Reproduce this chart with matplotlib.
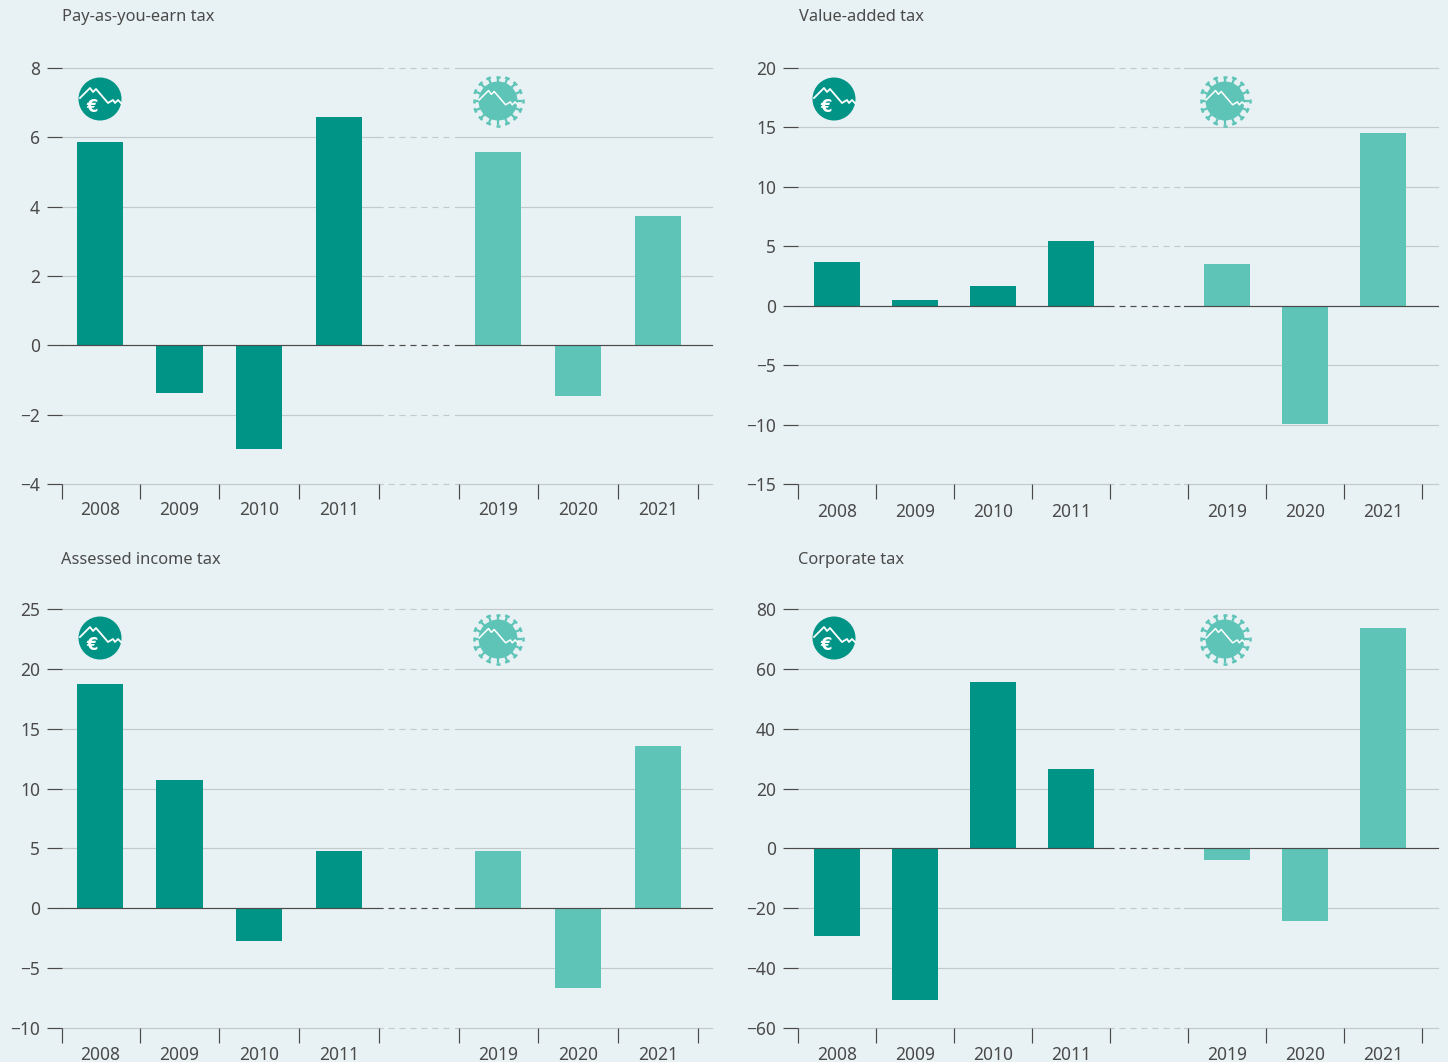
import numpy as np
import matplotlib
matplotlib.use('Agg')
import matplotlib.pyplot as plt
from matplotlib.patches import Circle

plt.rcParams['font.family'] = ['Noto Sans', 'DejaVu Sans']

W, H = 1448, 1062
BG = '#e8f1f3'
DARK = '#009487'
LIGHT = '#5fc4b8'
GRID = '#c2cacc'
INK = '#4a4a4a'
LINE = '#4a4a4a'

years_a = ['2008', '2009', '2010', '2011']
years_b = ['2019', '2020', '2021']

paye_a = [5.86, -1.38, -3.0, 6.58]
paye_b = [5.57, -1.47, 3.72]
vat_a = [3.7, 0.5, 1.7, 5.45]
vat_b = [3.5, -9.95, 14.5]
income_a = [18.7, 10.7, -2.75, 4.75]
income_b = [4.75, -6.7, 13.55]
corp_a = [-29.4, -50.8, 55.5, 26.7]
corp_b = [-4.0, -24.4, 73.5]

paye_ticks = [-4, -2, 0, 2, 4, 6, 8]
vat_ticks = [-15, -10, -5, 0, 5, 10, 15, 20]
income_ticks = [-10, -5, 0, 5, 10, 15, 20, 25]
corp_ticks = [-60, -40, -20, 0, 20, 40, 60, 80]

fig = plt.figure(figsize=(W / 100, H / 100), dpi=100, facecolor=BG)


def panel(left, right, top, bottom, x0, title, title_x, title_y, vals_a, vals_b, ticks, unit, label_y):
    ax = fig.add_axes([left / W, 1 - bottom / H, (right - left) / W, (bottom - top) / H])
    ax.set_facecolor('none')
    xa = np.arange(4)
    xb = np.arange(3) + 5
    xmax = x0 + (right - left) / unit
    ax.set_xlim(x0, xmax)
    ax.set_ylim(ticks[0], ticks[-1])
    for s in ax.spines.values():
        s.set_visible(False)

    # gridlines are broken up by a dashed stretch between the two periods
    for t in ticks:
        col = LINE if t == 0 else GRID
        z = 4 if t == 0 else 1
        ax.plot([x0, 3.48], [t, t], color=col, lw=0.85, zorder=z, clip_on=False)
        ax.plot([3.48, 4.42], [t, t], color=col, lw=0.85, zorder=z, clip_on=False,
                dashes=(5.2, 4.1))
        ax.plot([4.45, xmax], [t, t], color=col, lw=0.85, zorder=z, clip_on=False)

    ax.bar(xa, vals_a, width=0.58, color=DARK, zorder=3)
    ax.bar(xb, vals_b, width=0.58, color=LIGHT, zorder=3)

    ax.set_yticks(ticks)
    ax.set_yticklabels([str(t).replace('-', '\u2212') for t in ticks])
    ax.tick_params(axis='y', length=10.8, width=0.85, color=LINE, labelsize=12.5,
                   labelcolor=INK, pad=5)
    ax.set_xticks([x0, 0.5, 1.5, 2.5, 3.5, 4.5, 5.5, 6.5, 7.5])
    ax.set_xticklabels([])
    ax.tick_params(axis='x', length=11, width=0.85, color=LINE)
    for x, lab in zip(list(xa) + list(xb), years_a + years_b):
        px = left + (x - x0) * unit
        fig.text(px / W, 1 - label_y / H, lab, ha='center', va='center',
                 fontsize=12.5, color=INK)
    fig.text(title_x / W, 1 - title_y / H, title, ha='left',
             va='center', fontsize=11.8, color=INK)
    return ax


panel(62, 712, 68, 484, -0.475, 'Pay-as-you-earn tax', 62, 17, paye_a, paye_b, paye_ticks, 79.7, 510)
panel(798, 1438, 68, 484, -0.5, 'Value-added tax', 799, 17, vat_a, vat_b, vat_ticks, 78, 512)
panel(62, 712, 609, 1028, -0.475, 'Assessed income tax', 61, 560, income_a, income_b, income_ticks, 79.7, 1055)
panel(798, 1438, 609, 1028, -0.5, 'Corporate tax', 798, 560, corp_a, corp_b, corp_ticks, 78, 1055)

# overlay in pixel coordinates for the two pictograms
ov = fig.add_axes([0, 0, 1, 1], zorder=10)
ov.set_xlim(0, W)
ov.set_ylim(H, 0)
ov.axis('off')

# crisis line shared by both icons, relative to the circle centre
zig_x = [-20, -10, -7, -4, 8, 13, 15, 18, 21]
zig_y = [-1, -11, -7, -10, 4, 1, 4, 1, 4]


def euro_icon(cx, cy):
    ov.add_patch(Circle((cx, cy), 21.5, color=DARK, lw=0))
    ov.plot(np.array(zig_x) + cx, np.array(zig_y) + cy, color='white', lw=1.3)
    ov.text(cx - 7.5, cy + 7.5, '\u20ac', color='white', fontsize=12, fontweight='bold',
            family='DejaVu Sans', ha='center', va='center')


def virus_icon(cx, cy):
    ov.add_patch(Circle((cx, cy), 19.5, color=LIGHT, lw=0))
    for a in np.arange(16) * np.pi / 8:
        c, s = np.cos(a), np.sin(a)
        ov.plot([cx + 18 * c, cx + 24 * c], [cy + 18 * s, cy + 24 * s], color=LIGHT,
                lw=1.6, solid_capstyle='butt')
        ov.plot([cx + 24.5 * c - 2.4 * s, cx + 24.5 * c + 2.4 * s],
                [cy + 24.5 * s + 2.4 * c, cy + 24.5 * s - 2.4 * c], color=LIGHT,
                lw=1.8, solid_capstyle='butt')
    ov.plot(np.array(zig_x) * 0.95 + cx, np.array(zig_y) * 0.95 + cy, color='white', lw=1.1)


euro_icon(100, 99)
euro_icon(834, 99)
euro_icon(100, 638)
euro_icon(834, 638)
virus_icon(498, 101)
virus_icon(1225, 101)
virus_icon(498, 639)
virus_icon(1225, 639)

fig.savefig('out.png', dpi=100, facecolor=BG)
